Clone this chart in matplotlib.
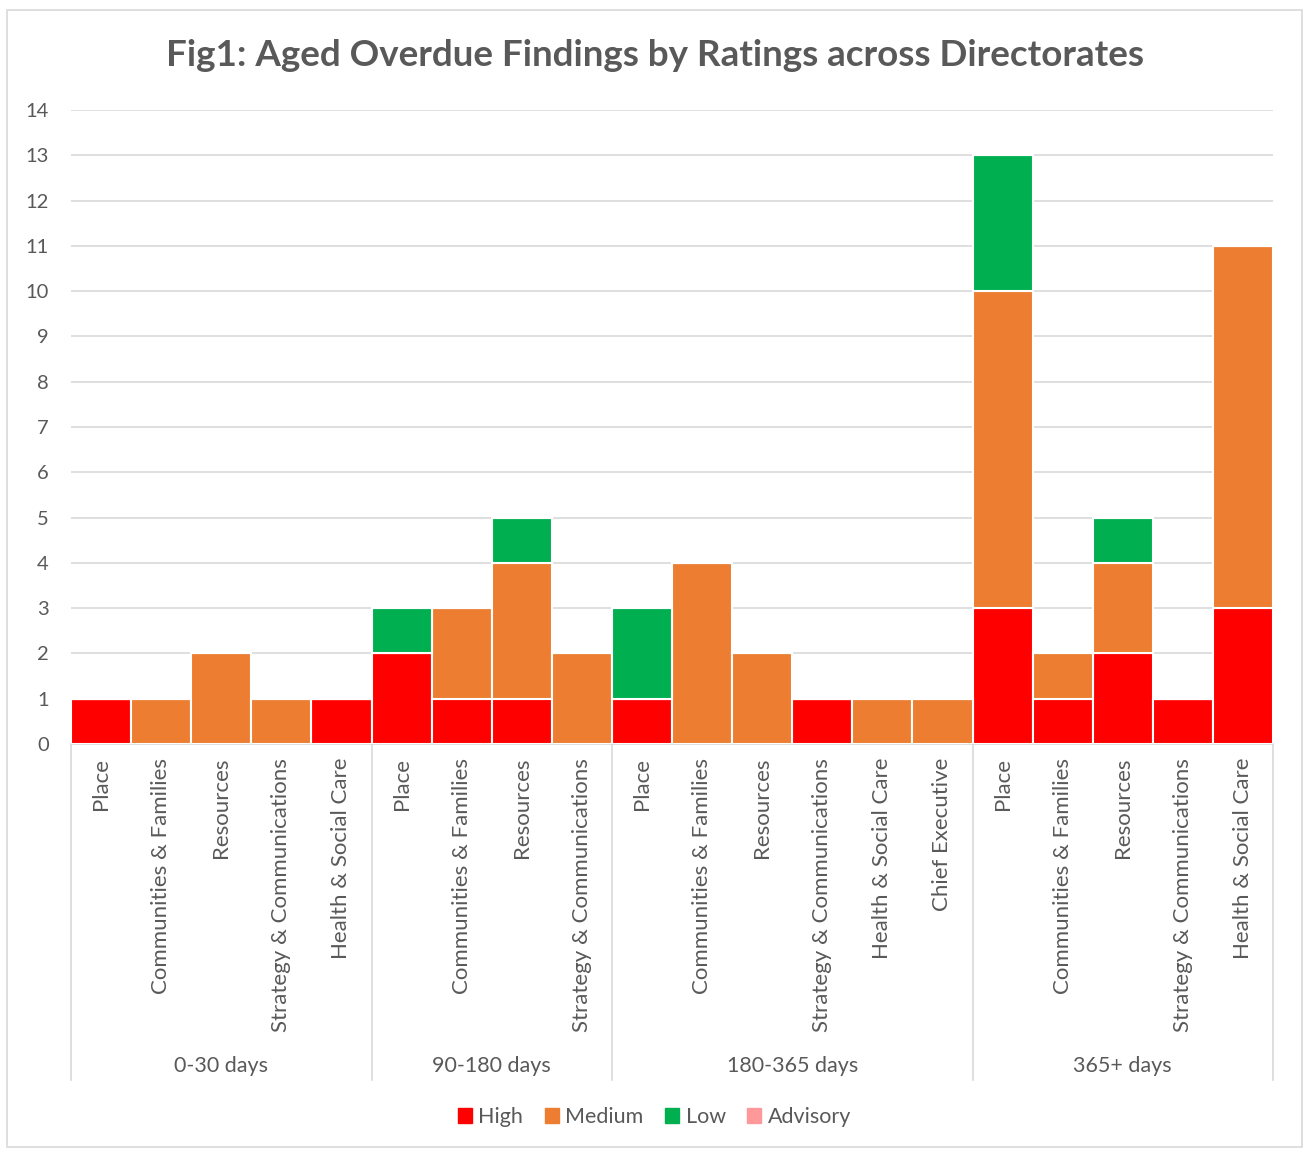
import numpy as np
from matplotlib import pyplot as plt
from matplotlib.patches import Patch, Rectangle
from matplotlib.lines import Line2D

plt.rcParams['font.family'] = ['Lato', 'DejaVu Sans']

#categories
groups = ['0-30 days', '90-180 days', '180-365 days', '365+ days']
group_sizes = [5, 4, 6, 5]
directorates = ['Place', 'Communities & Families', 'Resources', 'Strategy & Communications', 'Health & Social Care',
                'Place', 'Communities & Families', 'Resources', 'Strategy & Communications',
                'Place', 'Communities & Families', 'Resources', 'Strategy & Communications', 'Health & Social Care', 'Chief Executive',
                'Place', 'Communities & Families', 'Resources', 'Strategy & Communications', 'Health & Social Care']

#findings per rating
high =     [1, 0, 0, 0, 1,  2, 1, 1, 0,  1, 0, 0, 1, 0, 0,  3, 1, 2, 1, 3]
medium =   [0, 1, 2, 1, 0,  0, 2, 3, 2,  0, 4, 2, 0, 1, 1,  7, 1, 2, 0, 8]
low =      [0, 0, 0, 0, 0,  1, 0, 1, 0,  2, 0, 0, 0, 0, 0,  3, 0, 1, 0, 0]
advisory = [0, 0, 0, 0, 0,  0, 0, 0, 0,  0, 0, 0, 0, 0, 0,  0, 0, 0, 0, 0]

c_high = '#FF0000'
c_med = '#ED7D31'
c_low = '#00B050'
c_adv = '#FF9999'
grey = '#595959'
line_grey = '#D9D9D9'

W, H = 1309, 1149
fig = plt.figure(figsize=(W/100, H/100), dpi=100)
fig.patches.append(Rectangle((7/W, 2/H), 1295/W, 1137/H, transform=fig.transFigure,
                             fill=False, edgecolor=line_grey, linewidth=1.2))

ax = fig.add_axes([71/W, (H-744)/H, (1273-71)/W, (744-110)/H])

x = np.arange(len(directorates))
high = np.array(high)
medium = np.array(medium)
low = np.array(low)
advisory = np.array(advisory)
ax.bar(x, high, width=1, color=c_high, edgecolor='white', linewidth=1.5, zorder=3)
ax.bar(x, medium, width=1, bottom=high, color=c_med, edgecolor='white', linewidth=1.5, zorder=3)
ax.bar(x, low, width=1, bottom=high+medium, color=c_low, edgecolor='white', linewidth=1.5, zorder=3)
ax.bar(x, advisory, width=1, bottom=high+medium+low, color=c_adv, edgecolor='white', linewidth=1.5, zorder=3)

ax.set_xlim(-0.5, len(directorates)-0.5)
ax.set_ylim(0, 14)
ax.set_yticks(range(0, 15))
ax.grid(axis='y', color=line_grey, linewidth=1.2, zorder=0)
for s in ['top', 'right', 'left']:
    ax.spines[s].set_visible(False)
ax.spines['bottom'].set_color(line_grey)
ax.spines['bottom'].set_linewidth(1.2)
ax.tick_params(axis='y', length=0, pad=16, labelsize=14.5, labelcolor=grey)
ax.set_xticks(x)
ax.set_xticklabels(directorates, rotation=90, fontsize=16, color=grey)
ax.tick_params(axis='x', length=0, pad=10)

#group separators and labels
edges = np.concatenate([[0], np.cumsum(group_sizes)]) - 0.5
ybot = (744-1080)/634
for e in edges:
    ax.add_line(Line2D([e, e], [0, ybot], transform=ax.get_xaxis_transform(),
                       color=line_grey, linewidth=1.2, clip_on=False))
for i, g in enumerate(groups):
    ax.text((edges[i]+edges[i+1])/2, (744-1066)/634, g, transform=ax.get_xaxis_transform(),
            ha='center', va='center', fontsize=15.5, color=grey)

fig.text(0.5, (H-55)/H, 'Fig1: Aged Overdue Findings by Ratings across Directorates',
         ha='center', va='center', fontsize=26.5, fontweight='bold', color=grey)

handles = [Patch(color=c_high), Patch(color=c_med), Patch(color=c_low), Patch(color=c_adv)]
fig.legend(handles, ['High', 'Medium', 'Low', 'Advisory'], loc='center', bbox_to_anchor=(0.5, (H-1117)/H),
           ncol=4, frameon=False, fontsize=15.5, labelcolor=grey, handlelength=0.65, handleheight=0.65,
           handletextpad=0.3, columnspacing=1.0)

fig.savefig('out.png', dpi=100)
